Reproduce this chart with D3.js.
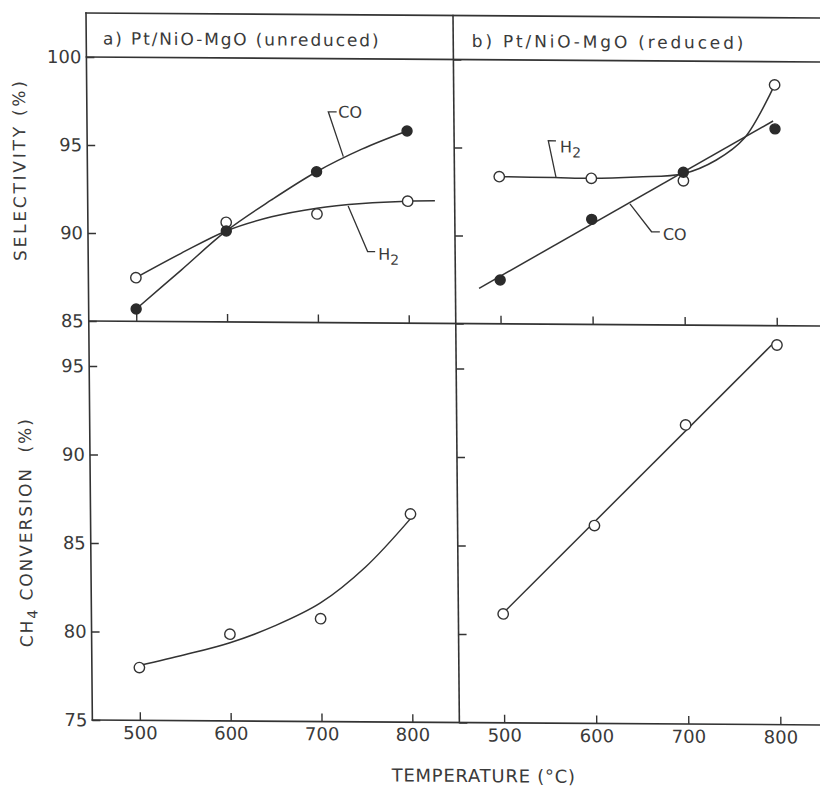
<!DOCTYPE html>
<html>
<head>
<meta charset="utf-8">
<script src="https://cdn.jsdelivr.net/npm/d3@7"></script>
<style>
  html, body { margin: 0; padding: 0; background: #fff; }
  svg { display: block; }
  text { font-family: "DejaVu Sans", sans-serif; fill: #3a3a3a; }
</style>
</head>
<body>
<svg id="chart" width="820" height="788"></svg>
<script>
// Temperatures at which each catalyst was measured (°C)
const temps = [500, 600, 700, 800];

// a) Pt/NiO-MgO (unreduced)
const coSelA = [85.70, 90.17, 93.57, 95.92];
const h2SelA = [87.48, 90.66, 91.17, 91.93];
const convA  = [77.98, 79.90, 80.81, 86.76];

// b) Pt/NiO-MgO (reduced)
const coSelB = [87.49, 90.97, 93.68, 96.18];
const h2SelB = [93.36, 93.30, 93.20, 98.68];
const convB  = [81.15, 86.18, 91.90, 96.45];

// Trend curves drawn through the data: [temperature, value]
const coFitA   = [[500, 85.70], [550, 87.93], [600, 90.17], [650, 91.95], [700, 93.57], [750, 94.87], [800, 95.92]];
const h2FitA   = [[500, 87.48], [550, 88.88], [600, 90.17], [650, 90.99], [700, 91.50], [750, 91.78], [800, 91.93], [830, 91.96]];
const convFitA = [[500, 78.10], [550, 78.72], [600, 79.42], [650, 80.40], [700, 81.70], [750, 83.75], [800, 86.50]];
const coFitB   = [[477, 87.01], [798, 96.63]];
const h2FitB   = [[500, 93.36], [560, 93.33], [600, 93.30], [650, 93.40], [700, 93.60], [736, 94.39], [767, 95.66], [800, 98.68]];
const convFitB = [[500, 81.20], [800, 96.75]];

// Tick values
const xTicks    = [500, 600, 700, 800];
const selTicks  = [100, 95, 90, 85];
const convTicks = [95, 90, 85, 80, 75];

// Texts
const titleA = "a) Pt/NiO-MgO (unreduced)";
const titleB = "b) Pt/NiO-MgO (reduced)";
const xTitle = "TEMPERATURE (°C)";

// Curve labels with leader lines, in data units
const labelsA = [
  { name: "CO", sub: "",  leader: [[729.6, 94.44], [713.5, 96.98], [722.7, 96.98]], at: [724.5, 96.98] },
  { name: "H",  sub: "2", leader: [[734.4, 91.64], [755.4, 89.05], [763.7, 89.05]], at: [767.0, 88.92] }
];
const labelsB = [
  { name: "H",  sub: "2", leader: [[561.6, 93.35], [553.6, 95.42], [562.0, 95.42]], at: [566.3, 95.09] },
  { name: "CO", sub: "",  leader: [[641.7, 91.86], [664.9, 90.29], [673.9, 90.29]], at: [677.2, 90.16] }
];

// ---- layout ----
const INK = "#333";
const frame = { left: 86, mid: 453, right: 832, head: 13, top: 57, split: 321, bottom: 720 };

const svg = d3.select("#chart");
// the printed figure is slightly sheared on the page
const root = svg.append("g").attr("transform", "matrix(1,0.0068,0.009,1,-0.117,-0.585)");

const xA = d3.scaleLinear().domain([500, 800]).range([133.5, 406]);
const xB = d3.scaleLinear().domain([500, 800]).range([497.8, 774]);
const ySel  = d3.scaleLinear().domain([85, 100]).range([321, 57]);
const yConv = d3.scaleLinear().domain([75, 95]).range([720, 366]);

// ---- frame ----
const frameLines = [
  [frame.left, frame.head, frame.right, frame.head],
  [frame.left, frame.top, frame.right, frame.top],
  [frame.left, frame.split, frame.right, frame.split],
  [frame.left, frame.bottom, frame.right, frame.bottom],
  [frame.left, frame.head, frame.left, frame.bottom],
  [frame.mid, frame.head, frame.mid, frame.bottom]
];
root.append("g").selectAll("line").data(frameLines).join("line")
  .attr("x1", d => d[0]).attr("y1", d => d[1]).attr("x2", d => d[2]).attr("y2", d => d[3])
  .attr("stroke", INK).attr("stroke-width", 1.6).attr("stroke-linecap", "square");

// ---- axes (ticks point inward) ----
function styleAxis(g) {
  g.select(".domain").remove();
  g.attr("font-family", null).attr("font-size", 18).attr("color", "#3a3a3a");
  g.selectAll(".tick line").attr("stroke", INK).attr("stroke-width", 1.4);
}
function yAxis(x0, scale, ticks, labelled) {
  const ax = d3.axisLeft(scale).tickValues(ticks).tickSizeInner(-8).tickSizeOuter(0).tickPadding(5);
  if (!labelled) ax.tickFormat("");
  root.append("g").attr("transform", `translate(${x0},0)`).call(ax).call(styleAxis);
}
function xAxis(y0, scale, labelled) {
  const ax = d3.axisBottom(scale).tickValues(xTicks).tickSizeInner(-8).tickSizeOuter(0).tickPadding(6);
  if (!labelled) ax.tickFormat("");
  root.append("g").attr("transform", `translate(0,${y0})`).call(ax).call(styleAxis);
}
yAxis(frame.left, ySel, selTicks, true);
yAxis(frame.left, yConv, convTicks, true);
yAxis(frame.mid, ySel, selTicks, false);
yAxis(frame.mid, yConv, convTicks, false);
xAxis(frame.split, xA, false);
xAxis(frame.split, xB, false);
xAxis(frame.bottom, xA, true);
xAxis(frame.bottom, xB, true);

// ---- titles ----
root.append("text").attr("x", 102.7).attr("y", 44.3).attr("font-size", 17)
  .attr("textLength", 275.6).attr("lengthAdjust", "spacing").text(titleA);
root.append("text").attr("x", 471.5).attr("y", 44.3).attr("font-size", 17)
  .attr("textLength", 271.6).attr("lengthAdjust", "spacing").text(titleB);

root.append("text").attr("x", 384.8).attr("y", 779.5).attr("font-size", 18)
  .attr("textLength", 183.4).attr("lengthAdjust", "spacing").text(xTitle);

root.append("text")
  .attr("transform", "translate(18,171.5) rotate(-90)")
  .attr("text-anchor", "middle").attr("dy", "0.36em").attr("font-size", 17)
  .attr("textLength", 180).attr("lengthAdjust", "spacing")
  .text("SELECTIVITY (%)");

const convTitle = root.append("text")
  .attr("transform", "translate(21,533.6) rotate(-90)")
  .attr("text-anchor", "middle").attr("dy", "0.36em").attr("font-size", 17)
  .attr("textLength", 228).attr("lengthAdjust", "spacing")
  .style("white-space", "pre");
convTitle.append("tspan").text("CH");
convTitle.append("tspan").attr("dy", 5).attr("font-size", 14).text("4");
convTitle.append("tspan").attr("dy", -5).text(" CONVERSION  (%)");

// ---- curves and markers ----
function curve(points, x, y) {
  const line = d3.line().x(d => x(d[0])).y(d => y(d[1])).curve(d3.curveCatmullRom.alpha(0.5));
  root.append("path").datum(points).attr("d", line)
    .attr("fill", "none").attr("stroke", INK).attr("stroke-width", 1.5);
}
function markers(values, x, y, filled) {
  root.append("g").selectAll("circle").data(values).join("circle")
    .attr("cx", (d, i) => x(temps[i])).attr("cy", d => y(d))
    .attr("r", filled ? 5 : 5.2)
    .attr("fill", filled ? "#2b2b2b" : "#fff")
    .attr("stroke", filled ? "#2b2b2b" : INK).attr("stroke-width", 1.4);
}
function labels(list, x, y) {
  list.forEach(l => {
    root.append("path")
      .attr("d", d3.line().x(d => x(d[0])).y(d => y(d[1]))(l.leader))
      .attr("fill", "none").attr("stroke", INK).attr("stroke-width", 1.3);
    const t = root.append("text").attr("x", x(l.at[0])).attr("y", y(l.at[1]))
      .attr("dy", "0.36em").attr("font-size", 16);
    t.append("tspan").text(l.name);
    if (l.sub) t.append("tspan").attr("dy", 5).attr("font-size", 14).text(l.sub);
  });
}

curve(coFitA, xA, ySel);
curve(h2FitA, xA, ySel);
curve(convFitA, xA, yConv);
curve(coFitB, xB, ySel);
curve(h2FitB, xB, ySel);
curve(convFitB, xB, yConv);

markers(h2SelA, xA, ySel, false);
markers(coSelA, xA, ySel, true);
markers(convA, xA, yConv, false);
markers(h2SelB, xB, ySel, false);
markers(coSelB, xB, ySel, true);
markers(convB, xB, yConv, false);

labels(labelsA, xA, ySel);
labels(labelsB, xB, ySel);
</script>
</body>
</html>
